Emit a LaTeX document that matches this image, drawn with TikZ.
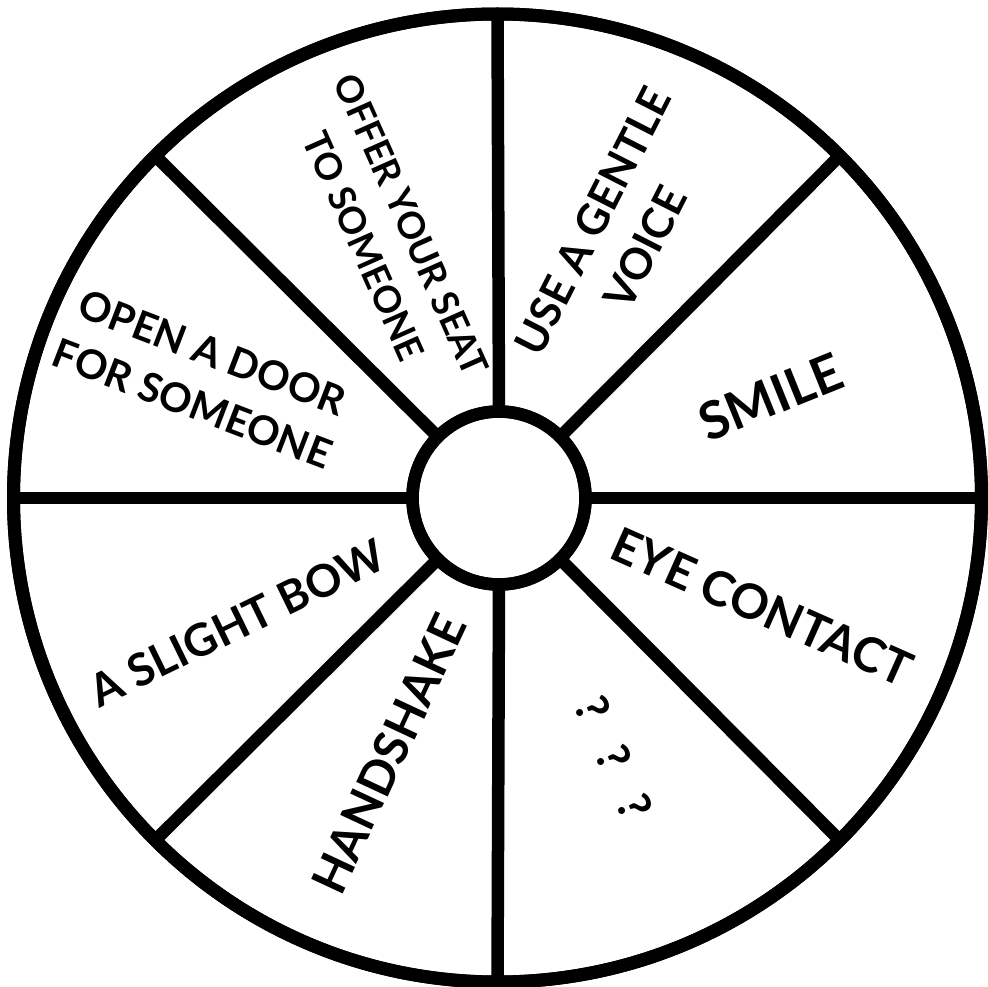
\documentclass[tikz,border=0pt]{standalone}
\usepackage{fontspec}
\setmainfont{Lato}
\begin{document}
\begin{tikzpicture}[x=1pt,y=-1pt,
  ring/.style={draw=black,circle,inner sep=0pt,outer sep=0pt,fill=none},
  spoke/.style={line width=12.5pt,black},
  lbl/.style 2 args={font=\bfseries\fontsize{#1}{#2}\selectfont,align=center,inner sep=0pt}]
\fill[white] (0,0) rectangle (988,987);
\useasboundingbox (0,0) rectangle (988,987);
\node[ring,minimum size=968pt,line width=13pt] (rim) at (497.5,498) {};
\node[ring,minimum size=173pt,line width=12.5pt] (hub) at (499,498) {};
\foreach \a in {0,45,...,315}{\draw[spoke] (hub.\a) -- (rim.\a);}
\node[ring,minimum size=968pt,line width=13pt] at (rim.center) {};
\node[ring,minimum size=173pt,line width=12.5pt] at (hub.center) {};
\node[lbl={37}{52},rotate=-66] (seat) at (387.5,235.5) {OFFER YOUR SEAT\\TO SOMEONE};
\node[lbl={43}{59},rotate=63] (voice) at (619,234) {USE A GENTLE\\VOICE};
\node[lbl={52}{60},rotate=22] (smile) at (771,397) {SMILE};
\node[lbl={48}{60},rotate=-24] (eye) at (762,607) {EYE CONTACT};
\node[lbl={46}{56},rotate=-67] (qqq) at (614,758) {?\hspace{0.7em}?\hspace{0.7em}?};
\node[lbl={48}{60},rotate=65] (hand) at (389,754) {HANDSHAKE};
\node[lbl={45}{60},rotate=26] (bow) at (237,623) {A SLIGHT BOW};
\node[lbl={40.5}{55},rotate=-21] (door) at (202.5,378) {OPEN A DOOR\\FOR SOMEONE};
\end{tikzpicture}
\end{document}
